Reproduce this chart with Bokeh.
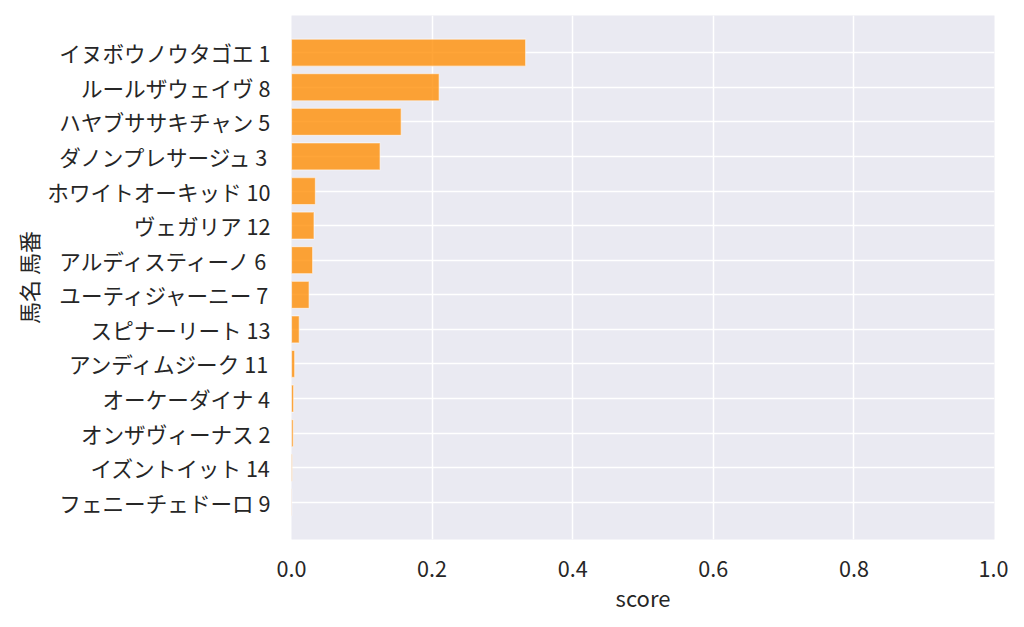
from bokeh.plotting import figure
from bokeh.models import FactorRange, Range1d, FixedTicker, ColumnDataSource
from bokeh.embed import file_html
from bokeh.resources import INLINE

horses = ["イヌボウノウタゴエ 1", "ルールザウェイヴ 8", "ハヤブササキチャン 5", "ダノンプレサージュ 3",
          "ホワイトオーキッド 10", "ヴェガリア 12", "アルディスティーノ 6", "ユーティジャーニー 7",
          "スピナーリート 13", "アンディムジーク 11", "オーケーダイナ 4", "オンザヴィーナス 2",
          "イズントイット 14", "フェニーチェドーロ 9"]
scores = [0.333, 0.210, 0.156, 0.126, 0.034, 0.032, 0.030, 0.025, 0.011, 0.0045,
          0.003, 0.0025, 0.001, 0.0003]
x_ticks = [0.0, 0.2, 0.4, 0.6, 0.8, 1.0]

FONT = "Noto Sans CJK JP"
src = ColumnDataSource(dict(horse=horses, score=scores))

factors = list(reversed(horses))
p = figure(width=1008, height=624, output_backend="svg", toolbar_location=None,
           y_range=FactorRange(factors=factors, range_padding=0.082, range_padding_units="percent"),
           x_range=Range1d(0, 1.0))
p.hbar(y="horse", right="score", left=0, height=0.78, source=src,
       fill_color="#FF8C00", fill_alpha=0.78, line_color="white", line_alpha=0.5, line_width=1.2)

p.min_border_left = 291
p.min_border_right = 14
p.min_border_top = 15
p.min_border_bottom = 85
p.background_fill_color = "#EAEAF2"
p.border_fill_color = "white"
p.outline_line_color = None

for g in (p.xgrid, p.ygrid):
    g.grid_line_color = "white"
    g.grid_line_width = 1.5
p.xaxis.ticker = FixedTicker(ticks=x_ticks)
p.xaxis.major_label_overrides = {t: f"{t:.1f}" for t in x_ticks}

for ax in (p.xaxis, p.yaxis):
    ax.axis_line_color = None
    ax.major_tick_line_color = None
    ax.minor_tick_line_color = None
    ax.major_label_text_font = FONT
    ax.major_label_text_font_size = "21.6px"
    ax.major_label_text_color = "#262626"
    ax.axis_label_text_font = FONT
    ax.axis_label_text_font_size = "22px"
    ax.axis_label_text_font_style = "normal"
    ax.axis_label_text_color = "#262626"

p.xaxis.axis_label = "score"
p.yaxis.axis_label = "馬名 馬番"
p.xaxis.major_label_standoff = 15
p.yaxis.major_label_standoff = 15
p.xaxis.axis_label_standoff = 1
p.yaxis.axis_label_standoff = 0

open("out.html", "w").write(file_html(p, INLINE))
